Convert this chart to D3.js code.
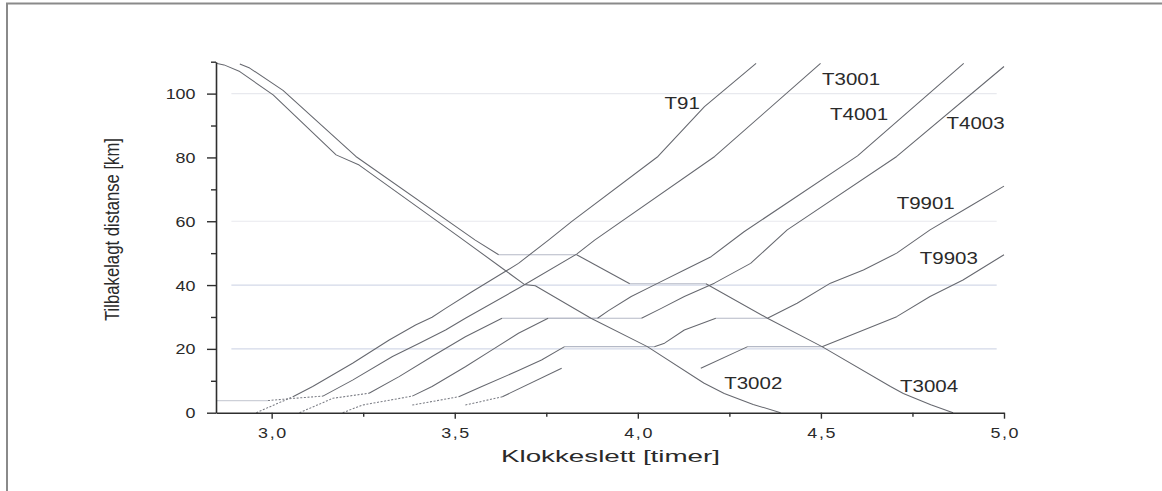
<!DOCTYPE html>
<html>
<head>
<meta charset="utf-8">
<script src="https://cdn.jsdelivr.net/npm/d3@7"></script>
<style>
  html, body { margin: 0; padding: 0; background: #fff; }
  svg { display: block; }
  text { font-family: "Liberation Sans", Arial, sans-serif; fill: #2a2a2a; }
</style>
</head>
<body>
<svg id="chart" width="1162" height="491"></svg>
<script>
// Train graph: elapsed distance (km) against clock time (hours).
// Each path is a list of [time, km]; equal consecutive km values are stops.

const xTicks = [3.0, 3.5, 4.0, 4.5, 5.0];
const xMinorTicks = [3.25, 3.75, 4.25, 4.75];
const yTicks = [0, 20, 40, 60, 80, 100];
const yMinorTicks = [10, 30, 50, 70, 90, 110];
const gridKm = [20, 40, 60, 100];

const trainNames = ["T91", "T3001", "T4001", "T4003", "T9901", "T9903", "T3002", "T3004"];

// slow departure legs out of the terminal
const slowT91   = [[2.958, 0], [3.058, 5.0]];
const slowT3001 = [[2.85, 3.8], [2.99, 3.8], [3.06, 4.5], [3.14, 5.2]];
const slowT4001 = [[3.076, 0], [3.167, 4.5], [3.266, 6.1]];
const slowT4003 = [[3.194, 0], [3.248, 2.4], [3.384, 5.2]];
const slowT9901 = [[3.384, 2.4], [3.511, 5.0]];
const slowT9903 = [[3.529, 2.4], [3.63, 5.0]];

// running paths
const pathT91 = [[3.058, 5.0], [3.112, 8.2], [3.221, 15.5], [3.321, 22.8], [3.393, 27.5], [3.438, 29.9],
  [3.475, 32.7], [3.547, 37.9], [3.64, 44.4], [3.674, 46.8], [3.756, 54.1], [3.819, 59.9],
  [4.055, 80.3], [4.182, 95.9], [4.323, 109.5]];
const pathT3001 = [[3.14, 5.2], [3.221, 10.2], [3.33, 17.6], [3.402, 21.7], [3.475, 25.9], [3.529, 29.6],
  [3.674, 39.0], [3.833, 49.7], [3.882, 54.1], [4.21, 80.3], [4.499, 109.5]];
const pathT4001 = [[3.266, 6.1], [3.348, 11.3], [3.438, 17.6], [3.529, 23.8], [3.629, 29.6], [3.89, 29.6],
  [3.92, 32.0], [3.982, 36.4], [4.055, 40.6], [4.127, 44.7], [4.2, 48.9], [4.29, 56.7],
  [4.60, 80.5], [4.89, 109.5]];
const pathT4003 = [[3.384, 5.2], [3.438, 8.2], [3.529, 14.4], [3.601, 19.6], [3.674, 24.9], [3.755, 29.6],
  [4.01, 29.6], [4.064, 32.7], [4.127, 36.4], [4.209, 40.6], [4.308, 46.8], [4.408, 57.3],
  [4.707, 80.3], [5.0, 108.5]];
const pathT9901 = [[3.511, 5.0], [3.574, 8.2], [3.674, 13.2], [3.737, 16.5], [3.80, 20.7], [4.045, 20.7],
  [4.073, 21.8], [4.127, 25.9], [4.213, 29.6], [4.354, 29.6], [4.435, 34.3], [4.526, 40.6],
  [4.616, 44.7], [4.707, 50.0], [4.798, 57.3], [4.906, 64.6], [5.0, 71.0]];
// T9903 is shown in two legs (the stop at the siding is not drawn)
const pathT9903a = [[3.63, 5.0], [3.792, 13.9]];
const pathT9903b = [[4.172, 13.9], [4.30, 20.7], [4.503, 20.7], [4.571, 23.8],
  [4.707, 30.1], [4.798, 36.4], [4.888, 41.6], [5.0, 49.5]];
const pathT3002 = [[2.848, 109.5], [2.87, 109.0], [2.913, 106.9], [3.004, 99.6], [3.176, 80.8], [3.239, 77.6],
  [3.511, 55.2], [3.64, 44.4], [3.69, 40.2], [3.72, 39.8], [3.872, 29.6], [4.026, 20.7],
  [4.18, 9.3], [4.236, 6.0], [4.315, 2.6], [4.39, 0]];
const pathT3004 = [[2.913, 109.3], [2.94, 108.0], [3.031, 101.0], [3.23, 80.3], [3.556, 54.1], [3.62, 49.5],
  [3.833, 49.5], [3.978, 40.4], [4.186, 40.4], [4.354, 29.6], [4.503, 20.7], [4.69, 8.2],
  [4.725, 6.0], [4.80, 2.5], [4.861, 0]];

// label anchors in chart units [time, km] (start of text, baseline)
const labelAnchors = [[4.073, 95.1], [4.503, 102.7], [4.525, 91.8], [4.843, 88.8],
  [4.707, 63.8], [4.770, 46.5], [4.236, 7.3], [4.716, 6.6]];

const slowLegs = [slowT91, slowT3001, slowT4001, slowT4003, slowT9901, slowT9903];
const runPaths = [pathT91, pathT3001, pathT4001, pathT4003, pathT9901, pathT9903a, pathT9903b, pathT3002, pathT3004];

const svg = d3.select("#chart");
const x = d3.scaleLinear().domain([2.848, 5.0]).range([216, 1004]);
const y = d3.scaleLinear().domain([0, 110]).range([412.7, 61.7]);

// page frame
svg.append("path").attr("d", "M7,491V3.5H1162").attr("fill", "none")
  .attr("stroke", "#8a8a8a").attr("stroke-width", 2);

// faint station lines
svg.append("g").selectAll("line").data(gridKm).join("line")
  .attr("x1", x(2.89)).attr("x2", x(4.98))
  .attr("y1", d => y(d)).attr("y2", d => y(d))
  .attr("stroke", d => d <= 40 ? "#d3d9e8" : "#e8e9ee").attr("stroke-width", 1.2);

const line = d3.line().x(d => x(d[0])).y(d => y(d[1]));

// split a path into running pieces and stop (horizontal) pieces
function split(path) {
  const runs = [], stops = [];
  let cur = [path[0]];
  for (let i = 1; i < path.length; i++) {
    const a = path[i - 1], b = path[i];
    if (a[1] === b[1]) {
      if (cur.length > 1) runs.push(cur);
      stops.push([a, b]);
      cur = [b];
    } else {
      cur.push(b);
    }
  }
  if (cur.length > 1) runs.push(cur);
  return { runs, stops };
}

const gStops = svg.append("g");
const gSlow = svg.append("g");
const gRun = svg.append("g");

runPaths.forEach(p => {
  const s = split(p);
  gStops.selectAll(null).data(s.stops).enter().append("path")
    .attr("d", line).attr("fill", "none").attr("stroke", "#b4b9c6").attr("stroke-width", 1.1);
  gRun.selectAll(null).data(s.runs).enter().append("path")
    .attr("d", line).attr("fill", "none").attr("stroke", "#66686f").attr("stroke-width", 1.05)
    .attr("stroke-linejoin", "round");
});

slowLegs.forEach(p => {
  const s = split(p);
  gStops.selectAll(null).data(s.stops).enter().append("path")
    .attr("d", line).attr("fill", "none").attr("stroke", "#cdd0d8").attr("stroke-width", 1.1);
  gSlow.selectAll(null).data(s.runs).enter().append("path")
    .attr("d", line).attr("fill", "none").attr("stroke", "#7a7c84").attr("stroke-width", 1.05)
    .attr("stroke-dasharray", "2,1.6");
});

// axes
const fmt = d => d.toFixed(1).replace(".", ",");
const gx = svg.append("g").attr("transform", `translate(0,${y(0)})`)
  .call(d3.axisBottom(x).tickValues(xTicks).tickFormat(fmt).tickSize(6).tickSizeOuter(0));
svg.append("g").attr("transform", `translate(0,${y(0)})`)
  .call(d3.axisBottom(x).tickValues(xMinorTicks).tickFormat("").tickSize(4).tickSizeOuter(0))
  .select(".domain").remove();
const gy = svg.append("g").attr("transform", `translate(${x.range()[0]},0)`)
  .call(d3.axisLeft(y).tickValues(yTicks).tickSize(9).tickSizeOuter(0));
svg.append("g").attr("transform", `translate(${x.range()[0]},0)`)
  .call(d3.axisLeft(y).tickValues(yMinorTicks).tickFormat("").tickSize(5).tickSizeOuter(0))
  .select(".domain").remove();

svg.selectAll(".domain").attr("stroke", "#2e2e2e").attr("stroke-width", 1.6);
svg.selectAll(".tick line").attr("stroke", "#2e2e2e").attr("stroke-width", 1.4);

gx.selectAll(".tick text")
  .attr("font-size", 14).attr("font-family", null).attr("fill", "#2a2a2a")
  .attr("y", 15).attr("dy", "0.71em")
  .attr("transform", "scale(1.28,1)")
  .attr("textLength", 22).attr("lengthAdjust", "spacing");
gy.selectAll(".tick text")
  .attr("font-size", 14).attr("font-family", null).attr("fill", "#2a2a2a")
  .attr("x", -16).attr("dy", "0.36em")
  .attr("transform", "scale(1.28,1)");
svg.selectAll(".tick text").style("font-family", "'Liberation Sans', Arial, sans-serif");

// axis titles
svg.append("text").attr("x", 501).attr("y", 462).attr("font-size", 17)
  .attr("textLength", 219).attr("lengthAdjust", "spacingAndGlyphs")
  .text("Klokkeslett [timer]");
svg.append("text").attr("transform", "translate(119,321) rotate(-90)")
  .attr("font-size", 20).attr("textLength", 183).attr("lengthAdjust", "spacingAndGlyphs")
  .text("Tilbakelagt distanse [km]");

// train labels
svg.append("g").selectAll("text").data(trainNames).join("text")
  .attr("transform", (d, i) => `translate(${x(labelAnchors[i][0])},${y(labelAnchors[i][1])}) scale(1.28,1)`)
  .attr("font-size", 16)
  .text(d => d);
</script>
</body>
</html>
